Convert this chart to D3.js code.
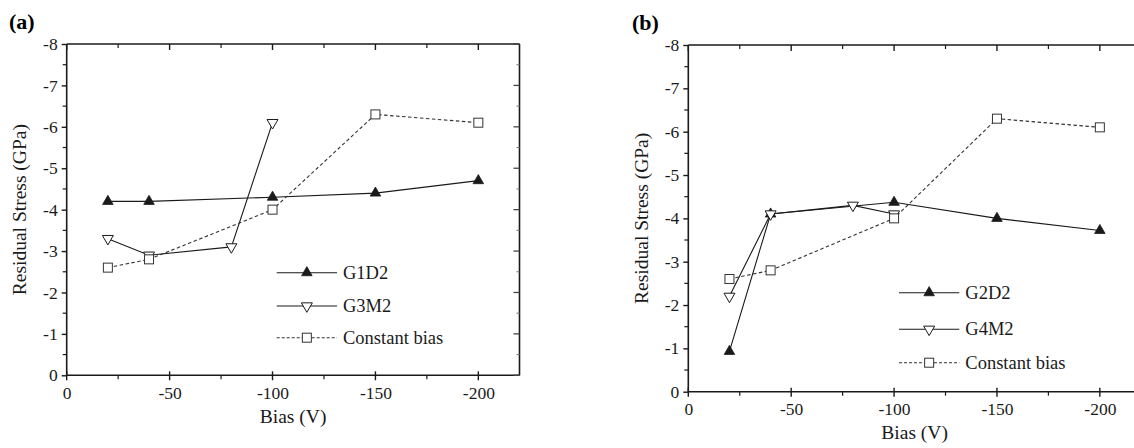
<!DOCTYPE html>
<html>
<head>
<meta charset="utf-8">
<script src="https://cdn.jsdelivr.net/npm/d3@7/dist/d3.min.js"></script>
<style>
  html, body { margin: 0; padding: 0; background: #fff; }
  svg text { font-family: "Liberation Serif", "Times New Roman", Times, "DejaVu Serif", serif !important; }
</style>
</head>
<body>
<svg id="chart" width="1134" height="448"></svg>
<script>
// Bias voltages (V)
const biasA = [-20, -40, -100, -150, -200];
const biasA3M = [-20, -40, -80, -100];
const biasB = [-20, -40, -100, -150, -200];
const biasB4M = [-20, -40, -80, -100];

// Residual stress (GPa), panel (a)
const g1d2 = [-4.2, -4.2, -4.3, -4.4, -4.7];
const g3m2 = [-3.3, -2.9, -3.1, -6.1];
const constA = [-2.6, -2.8, -4.0, -6.3, -6.1];

// Residual stress (GPa), panel (b)
const g2d2 = [-0.93, -4.1, -4.37, -4.0, -3.72];
const g4m2 = [-2.2, -4.1, -4.3, -4.1];
const constB = [-2.6, -2.8, -4.0, -6.3, -6.1];

// Axis ticks
const xTicks = [0, -50, -100, -150, -200];
const xMinor = [-25, -75, -125, -175];
const yTicks = [0, -1, -2, -3, -4, -5, -6, -7, -8];
const yMinor = [-0.5, -1.5, -2.5, -3.5, -4.5, -5.5, -6.5, -7.5];

const legendA = ["G1D2", "G3M2", "Constant bias"];
const legendB = ["G2D2", "G4M2", "Constant bias"];

const svg = d3.select("#chart");
const ink = "#1a1a1a";
const serif = '"Liberation Serif", "Times New Roman", Times, serif';

function marker(g, kind, x, y) {
  if (kind === "up") {
    g.append("path")
      .attr("d", d3.symbol().type(d3.symbolTriangle).size(48)())
      .attr("transform", `translate(${x},${y})`)
      .attr("fill", ink).attr("stroke", ink).attr("stroke-width", 0.8);
  } else if (kind === "down") {
    g.append("path")
      .attr("d", d3.symbol().type(d3.symbolTriangle).size(52)())
      .attr("transform", `translate(${x},${y}) rotate(180)`)
      .attr("fill", "#fff").attr("stroke", ink).attr("stroke-width", 1);
  } else {
    g.append("rect")
      .attr("x", x - 4.5).attr("y", y - 4.5)
      .attr("width", 9).attr("height", 9)
      .attr("fill", "#fff").attr("stroke", "#333").attr("stroke-width", 1);
  }
}

function panel(cfg) {
  const { left, right, top, bottom } = cfg;
  const x = d3.scaleLinear().domain([0, -220]).range([left, right]);
  const y = d3.scaleLinear().domain([0, -8]).range([bottom, top]);
  const g = svg.append("g").style("font-family", serif);

  // Frame
  [[left, top, right, top], [left, bottom, right, bottom],
   [left, top, left, bottom], [right, top, right, bottom]].forEach(s => {
    g.append("line").attr("x1", s[0]).attr("y1", s[1]).attr("x2", s[2]).attr("y2", s[3])
      .attr("stroke", ink).attr("stroke-width", 1.6);
  });

  // Bottom axis: labels plus crossing major ticks
  const bx = d3.axisBottom(x).tickValues(xTicks).tickSize(0).tickPadding(11)
    .tickFormat(d => d === 0 ? "0" : String(d));
  const bottomAxis = g.append("g").attr("transform", `translate(0,${bottom})`).call(bx)
    .attr("font-family", null);
  bottomAxis.select(".domain").remove();
  bottomAxis.selectAll("text").attr("font-size", 17.5).attr("fill", ink)
    .style("font-family", serif);
  xTicks.forEach(v => {
    g.append("line").attr("x1", x(v)).attr("x2", x(v)).attr("y1", bottom - 4).attr("y2", bottom + 5)
      .attr("stroke", ink).attr("stroke-width", 1.4);
    g.append("line").attr("x1", x(v)).attr("x2", x(v)).attr("y1", top).attr("y2", top + 6)
      .attr("stroke", ink).attr("stroke-width", 1.4);
  });
  xMinor.forEach(v => {
    g.append("line").attr("x1", x(v)).attr("x2", x(v)).attr("y1", bottom).attr("y2", bottom + 4)
      .attr("stroke", ink).attr("stroke-width", 1.2);
    g.append("line").attr("x1", x(v)).attr("x2", x(v)).attr("y1", top).attr("y2", top + 4)
      .attr("stroke", ink).attr("stroke-width", 1.2);
  });

  // Left axis
  const ly = d3.axisLeft(y).tickValues(yTicks).tickSize(5).tickPadding(4)
    .tickFormat(d => d === 0 ? "0" : String(d));
  const leftAxis = g.append("g").attr("transform", `translate(${left},0)`).call(ly)
    .attr("font-family", null);
  leftAxis.select(".domain").remove();
  leftAxis.selectAll("line").attr("stroke", ink).attr("stroke-width", 1.4);
  leftAxis.selectAll("text").attr("font-size", 17.5).attr("fill", ink)
    .style("font-family", serif);
  yMinor.forEach(v => {
    g.append("line").attr("x1", left - 4).attr("x2", left).attr("y1", y(v)).attr("y2", y(v))
      .attr("stroke", ink).attr("stroke-width", 1.2);
  });
  yTicks.forEach(v => {
    g.append("line").attr("x1", right - 6).attr("x2", right).attr("y1", y(v)).attr("y2", y(v))
      .attr("stroke", "#444").attr("stroke-width", 1.3);
  });
  yMinor.forEach(v => {
    g.append("line").attr("x1", right - 3).attr("x2", right).attr("y1", y(v)).attr("y2", y(v))
      .attr("stroke", "#777").attr("stroke-width", 1);
  });

  // Series
  const line = d3.line().x(d => x(d[0])).y(d => y(d[1]));
  cfg.series.forEach(s => {
    const pts = s.xs.map((v, i) => [v, s.ys[i]]);
    g.append("path").datum(pts).attr("d", line)
      .attr("fill", "none").attr("stroke", s.dash ? "#333" : ink)
      .attr("stroke-width", 1.1)
      .attr("stroke-dasharray", s.dash ? "3.5,2.5" : null);
  });
  cfg.series.forEach(s => {
    s.xs.forEach((v, i) => marker(g, s.kind, x(v), y(s.ys[i])));
  });

  // Legend
  cfg.series.forEach((s, i) => {
    const ly0 = cfg.legend.rows[i];
    g.append("line").attr("x1", cfg.legend.x0).attr("x2", cfg.legend.x1)
      .attr("y1", ly0).attr("y2", ly0)
      .attr("stroke", s.dash ? "#333" : ink).attr("stroke-width", 1.1)
      .attr("stroke-dasharray", s.dash ? "3,2" : null);
    marker(g, s.kind, (cfg.legend.x0 + cfg.legend.x1) / 2, ly0);
    g.append("text").attr("x", cfg.legend.x1 + 6).attr("y", ly0 + 6)
      .attr("font-size", 18.5).attr("fill", ink).style("font-family", serif)
      .text(cfg.legend.labels[i]);
  });

  // Titles
  g.append("text").attr("x", cfg.tag.x).attr("y", cfg.tag.y)
    .attr("font-size", 22).attr("font-weight", "bold").attr("fill", "#000")
    .style("font-family", serif).text(cfg.tag.text);
  g.append("text")
    .attr("transform", `translate(${cfg.ylab.x},${(top + bottom) / 2}) rotate(-90)`)
    .attr("text-anchor", "middle").attr("font-size", 19.5).attr("fill", ink)
    .style("font-family", serif).text("Residual Stress (GPa)");
  g.append("text").attr("x", x(-110)).attr("y", cfg.xlab.y)
    .attr("text-anchor", "middle").attr("font-size", 19.5).attr("fill", ink)
    .style("font-family", serif).text("Bias (V)");
}

panel({
  left: 66.7, right: 519.5, top: 44, bottom: 375.3,
  series: [
    { xs: biasA, ys: g1d2, kind: "up" },
    { xs: biasA3M, ys: g3m2, kind: "down" },
    { xs: biasA, ys: constA, kind: "sq", dash: true }
  ],
  legend: { x0: 276.7, x1: 337, rows: [272.7, 306, 337.7], labels: legendA },
  tag: { x: 9, y: 29, text: "(a)" },
  ylab: { x: 26 },
  xlab: { y: 423 }
});

panel({
  left: 688.3, right: 1141, top: 45, bottom: 391.7,
  series: [
    { xs: biasB, ys: g2d2, kind: "up" },
    { xs: biasB4M, ys: g4m2, kind: "down" },
    { xs: biasB, ys: constB, kind: "sq", dash: true }
  ],
  legend: { x0: 899, x1: 959.3, rows: [292.7, 329.3, 362.7], labels: legendB },
  tag: { x: 632, y: 30, text: "(b)" },
  ylab: { x: 648 },
  xlab: { y: 439 }
});
</script>
</body>
</html>
